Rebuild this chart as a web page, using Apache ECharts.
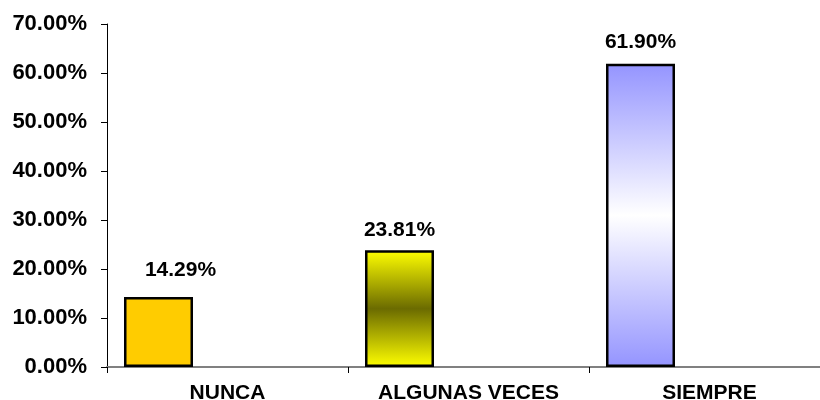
<!DOCTYPE html>
<html>
<head>
<meta charset="utf-8">
<script src="https://cdn.jsdelivr.net/npm/echarts@6/dist/echarts.min.js"></script>
<style>
  html, body { margin: 0; padding: 0; background: #fff; }
  #chart { width: 820px; height: 400px; }
</style>
</head>
<body>
<div id="chart"></div>
<script>
// respuestas (porcentaje)
const categories = ['NUNCA', 'ALGUNAS VECES', 'SIEMPRE'];
const percentValues = [14.29, 23.81, 61.90];
const yTicks = [0, 10, 20, 30, 40, 50, 60, 70];

const fontFamily = 'Arial, "Liberation Sans", sans-serif';

const grad = (edge, mid) =>
  new echarts.graphic.LinearGradient(0, 0, 0, 1, [
    { offset: 0, color: edge },
    { offset: 0.5, color: mid },
    { offset: 1, color: edge },
  ]);

const barFills = ['#FFCC00', grad('#FFFF00', '#6B6B00'), grad('#9494FF', '#FFFFFF')];
// los rótulos no quedan todos a la misma distancia de la barra
const labelOffsets = [[22, -11], [0, -5], [0, -6]];

const chart = echarts.init(document.getElementById('chart'), null, { renderer: 'canvas' });

chart.setOption({
  animation: false,
  backgroundColor: '#ffffff',
  // el área de trazado sigue un poco más allá del borde derecho
  grid: {
    left: 107, top: 24, width: 723, height: 343,
    containLabel: false,
    outerBoundsMode: 'none',
  },
  xAxis: {
    type: 'category',
    data: categories,
    boundaryGap: true,
    axisLine: { show: true, lineStyle: { color: '#808080', width: 2 } },
    axisTick: { show: true, length: 6, lineStyle: { color: '#000', width: 1 } },
    axisLabel: {
      color: '#000',
      fontFamily,
      fontWeight: 'bold',
      fontSize: 21,
      margin: 16,
    },
    splitLine: { show: false },
  },
  yAxis: {
    type: 'value',
    min: yTicks[0],
    max: yTicks[yTicks.length - 1],
    interval: 10,
    axisLine: { show: true, lineStyle: { color: '#000', width: 1 } },
    axisTick: { show: true, length: 6, lineStyle: { color: '#000', width: 1 } },
    axisLabel: {
      color: '#000',
      fontFamily,
      fontWeight: 'bold',
      fontSize: 22,
      margin: 20,
      formatter: (v) => v.toFixed(2) + '%',
    },
    splitLine: { show: false },
  },
  series: [
    {
      type: 'bar',
      barWidth: 69,
      barGap: '0%',
      data: percentValues.map((v, i) => ({
        value: v,
        itemStyle: { color: barFills[i] },
        label: { offset: labelOffsets[i] },
      })),
      itemStyle: { borderColor: '#000', borderWidth: 2.5 },
      label: {
        show: true,
        position: 'top',
        color: '#000',
        fontFamily,
        fontWeight: 'bold',
        fontSize: 21,
        formatter: (p) => p.value.toFixed(2) + '%',
      },
    },
    // series vacías, como en la hoja original (reservan espacio)
    { type: 'bar', barWidth: 69, barGap: '0%', data: [] },
    { type: 'bar', barWidth: 69, barGap: '0%', data: [] },
  ],
});
</script>
</body>
</html>
